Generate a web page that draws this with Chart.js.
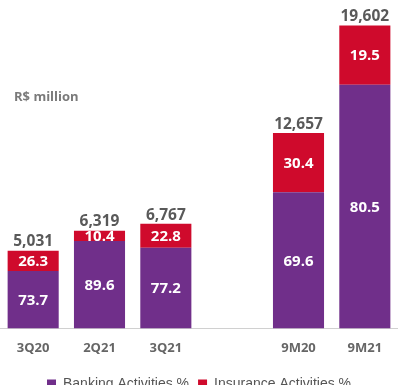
<!DOCTYPE html>
<html>
<head>
<meta charset="utf-8">
<script src="https://cdn.jsdelivr.net/npm/chart.js@4.4.0/dist/chart.umd.min.js"></script>
<style>
    html, body { margin: 0; padding: 0; background: #fff; overflow: hidden; }
    #wrap { position: relative; width: 398px; height: 401px; }
</style>
</head>
<body>
<div id="wrap"><canvas id="myChart"></canvas></div>
<script>
// Perioden und Werte (R$ Mio.), leere Kategorie als Abstand zwischen Quartalen und 9M
const periods = ['3Q20', '2Q21', '3Q21', '', '9M20', '9M21'];
const totals = [5031, 6319, 6767, null, 12657, 19602];
const bankingPct = [73.7, 89.6, 77.2, null, 69.6, 80.5];
const insurancePct = [26.3, 10.4, 22.8, null, 30.4, 19.5];

const purple = '#702f8a';
const red = '#cf0a2c';
const fontFamily = '"Open Sans", "Noto Sans", sans-serif';

// Segmenthöhe = Gesamtwert * Anteil
function share(pcts) {
    return pcts.map((p, i) => (p == null || totals[i] == null) ? null : totals[i] * p / 100);
}

// Prozentwerte in den Segmenten und Summen über den Balken
const labelPlugin = {
    id: 'barLabels',
    afterDatasetsDraw(chart) {
        const ctx = chart.ctx;
        ctx.save();
        ctx.textAlign = 'center';
        ctx.textBaseline = 'middle';
        const pctSets = [bankingPct, insurancePct];
        chart.data.datasets.forEach((ds, di) => {
            const meta = chart.getDatasetMeta(di);
            meta.data.forEach((bar, i) => {
                if (pctSets[di][i] == null) return;
                const mid = (bar.y + bar.base) / 2;
                ctx.fillStyle = '#ffffff';
                ctx.font = 'bold 15px ' + fontFamily;
                ctx.fillText(pctSets[di][i].toFixed(1), bar.x, mid + 1);
            });
        });
        const top = chart.getDatasetMeta(1);
        top.data.forEach((bar, i) => {
            if (totals[i] == null) return;
            ctx.fillStyle = '#595959';
            ctx.font = 'bold 15.5px ' + fontFamily;
            ctx.textBaseline = 'bottom';
            ctx.fillText(totals[i].toLocaleString('en-US'), bar.x, bar.y - 1);
        });
        // Einheit
        ctx.textAlign = 'left';
        ctx.textBaseline = 'middle';
        ctx.fillStyle = '#7a7a7a';
        ctx.font = 'bold 13px ' + fontFamily;
        ctx.fillText('R$ million', 14, 97);
        ctx.restore();
    }
};

const ctx = document.getElementById('myChart').getContext('2d');
new Chart(ctx, {
    type: 'bar',
    data: {
        labels: periods,
        datasets: [
            {
                label: 'Banking Activities %',
                data: share(bankingPct),
                backgroundColor: purple,
                barPercentage: 0.77,
                categoryPercentage: 1
            },
            {
                label: 'Insurance Activities %',
                data: share(insurancePct),
                backgroundColor: red,
                barPercentage: 0.77,
                categoryPercentage: 1
            }
        ]
    },
    options: {
        responsive: true,
        maintainAspectRatio: false,
        animation: false,
        layout: { padding: { top: 4, left: 0, right: 0, bottom: 0 } },
        plugins: {
            legend: {
                position: 'bottom',
                labels: {
                    boxWidth: 9,
                    boxHeight: 9,
                    padding: 9,
                    color: '#555555',
                    font: { family: '"Liberation Sans", Arial, sans-serif', size: 14 }
                }
            },
            tooltip: { enabled: false }
        },
        scales: {
            x: {
                stacked: true,
                grid: { display: false, drawTicks: false },
                border: { color: '#d0d0d0', width: 1 },
                ticks: {
                    padding: 12,
                    color: '#666666',
                    font: { family: fontFamily, size: 13, weight: 'bold' }
                }
            },
            y: {
                stacked: true,
                display: false,
                min: 0,
                max: 21000
            }
        }
    },
    plugins: [labelPlugin]
});
</script>
</body>
</html>
